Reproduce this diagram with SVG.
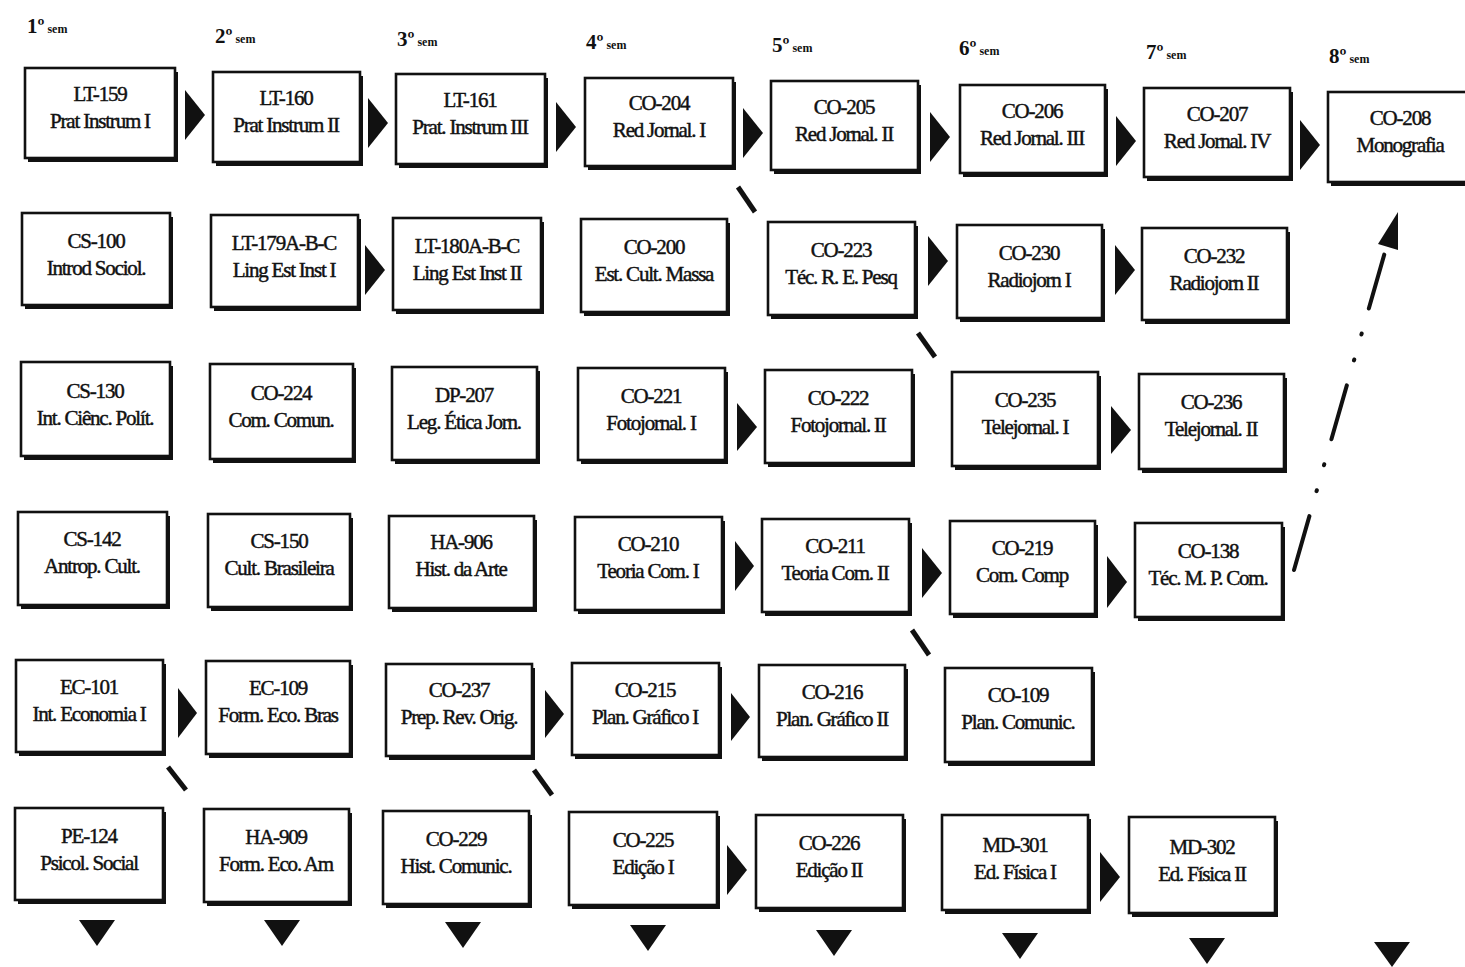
<svg xmlns="http://www.w3.org/2000/svg" width="1465" height="967" viewBox="0 0 1465 967">
<style>
.bg{fill:#fff}
.sh{fill:#111}
.bx{fill:#fff;stroke:#111;stroke-width:2.6}
.t{font-family:"Liberation Serif",serif;font-size:21px;letter-spacing:-1.2px;text-anchor:middle;fill:#111;stroke:#111;stroke-width:0.45}
.h{font-family:"Liberation Serif",serif;font-size:21px;font-weight:bold;fill:#111}
.hs{font-size:12px}
.ar{fill:#111}
.dg{stroke:#111;stroke-width:5;stroke-linecap:butt;fill:none}
.dd{stroke:#111;stroke-width:4;stroke-linecap:round;fill:none;stroke-dasharray:56 26 1 26 1 26}
</style>
<rect class="bg" x="0" y="0" width="1465" height="967"/>
<g id="headers">
<text class="h" x="27" y="33">1º<tspan class="hs"> sem</tspan></text>
<text class="h" x="215" y="43">2º<tspan class="hs"> sem</tspan></text>
<text class="h" x="397" y="46">3º<tspan class="hs"> sem</tspan></text>
<text class="h" x="586" y="49">4º<tspan class="hs"> sem</tspan></text>
<text class="h" x="772" y="52">5º<tspan class="hs"> sem</tspan></text>
<text class="h" x="959" y="55">6º<tspan class="hs"> sem</tspan></text>
<text class="h" x="1146" y="59">7º<tspan class="hs"> sem</tspan></text>
<text class="h" x="1329" y="63">8º<tspan class="hs"> sem</tspan></text>
</g>
<g id="connectors">
<polygon class="ar" points="185,90 205,115 185,140"/>
<polygon class="ar" points="368,98 388,123 368,148"/>
<polygon class="ar" points="556,102 576,127 556,152"/>
<polygon class="ar" points="743,108 763,133 743,158"/>
<polygon class="ar" points="930,112 950,137 930,162"/>
<polygon class="ar" points="1116,116 1136,141 1116,166"/>
<polygon class="ar" points="1300,120 1320,145 1300,170"/>
<polygon class="ar" points="365,245 385,270 365,295"/>
<polygon class="ar" points="928,236 948,261 928,286"/>
<polygon class="ar" points="1115,245 1135,270 1115,295"/>
<polygon class="ar" points="737,403 757,427 737,451"/>
<polygon class="ar" points="1111,406 1131,430 1111,454"/>
<polygon class="ar" points="735,541 754,566 735,591"/>
<polygon class="ar" points="922,548 942,573 922,598"/>
<polygon class="ar" points="1107,556 1127,582 1107,608"/>
<polygon class="ar" points="178,688 197,713 178,738"/>
<polygon class="ar" points="545,690 564,714 545,738"/>
<polygon class="ar" points="731,693 750,717 731,741"/>
<polygon class="ar" points="727,845 747,870 727,895"/>
<polygon class="ar" points="1100,852 1120,877 1100,902"/>
<path class="dg" d="M738,187 L755,212"/>
<path class="dg" d="M918,333 L935,357"/>
<path class="dg" d="M912,630 L929,655"/>
<path class="dg" d="M168,767 L186,790"/>
<path class="dg" d="M534,770 L552,795"/>
<path class="dd" d="M1294,570 L1385,252"/>
<polygon class="ar" points="1378,244 1398,212 1398,250"/>
<polygon class="ar" points="79,920 115,920 97,946"/>
<polygon class="ar" points="264,920 300,920 282,946"/>
<polygon class="ar" points="445,922 481,922 463,948"/>
<polygon class="ar" points="630,925 666,925 648,951"/>
<polygon class="ar" points="816,930 852,930 834,956"/>
<polygon class="ar" points="1002,933 1038,933 1020,959"/>
<polygon class="ar" points="1189,938 1225,938 1207,964"/>
<polygon class="ar" points="1374,942 1410,942 1392,967"/>
</g>
<g id="LT-159"><rect class="sh" x="28" y="72" width="150" height="90"/><rect class="bx" x="25" y="68" width="150" height="90"/><text class="t" x="100" y="101">LT-159</text><text class="t" x="100" y="128">Prat Instrum I</text></g>
<g id="LT-160"><rect class="sh" x="216" y="76" width="147" height="90"/><rect class="bx" x="213" y="72" width="147" height="90"/><text class="t" x="286" y="105">LT-160</text><text class="t" x="286" y="132">Prat Instrum II</text></g>
<g id="LT-161"><rect class="sh" x="399" y="78" width="149" height="90"/><rect class="bx" x="396" y="74" width="149" height="90"/><text class="t" x="470" y="107">LT-161</text><text class="t" x="470" y="134">Prat. Instrum III</text></g>
<g id="CO-204"><rect class="sh" x="588" y="82" width="148" height="88"/><rect class="bx" x="585" y="78" width="148" height="88"/><text class="t" x="659" y="110">CO-204</text><text class="t" x="659" y="137">Red Jornal. I</text></g>
<g id="CO-205"><rect class="sh" x="774" y="85" width="147" height="89"/><rect class="bx" x="771" y="81" width="147" height="89"/><text class="t" x="844" y="114">CO-205</text><text class="t" x="844" y="141">Red Jornal. II</text></g>
<g id="CO-206"><rect class="sh" x="963" y="89" width="145" height="88"/><rect class="bx" x="960" y="85" width="145" height="88"/><text class="t" x="1032" y="118">CO-206</text><text class="t" x="1032" y="145">Red Jornal. III</text></g>
<g id="CO-207"><rect class="sh" x="1147" y="92" width="146" height="89"/><rect class="bx" x="1144" y="88" width="146" height="89"/><text class="t" x="1217" y="121">CO-207</text><text class="t" x="1217" y="148">Red Jornal. IV</text></g>
<g id="CO-208"><rect class="sh" x="1331" y="96" width="140" height="90"/><rect class="bx" x="1328" y="92" width="140" height="90"/><text class="t" x="1400" y="125">CO-208</text><text class="t" x="1400" y="152">Monografia</text></g>

<g id="CS-100"><rect class="sh" x="25" y="217" width="148" height="92"/><rect class="bx" x="22" y="213" width="148" height="92"/><text class="t" x="96" y="248">CS-100</text><text class="t" x="96" y="275">Introd Sociol.</text></g>
<g id="LT-179"><rect class="sh" x="214" y="219" width="147" height="92"/><rect class="bx" x="211" y="215" width="147" height="92"/><text class="t" x="284" y="250">LT-179A-B-C</text><text class="t" x="284" y="277">Ling Est Inst I</text></g>
<g id="LT-180"><rect class="sh" x="396" y="222" width="148" height="92"/><rect class="bx" x="393" y="218" width="148" height="92"/><text class="t" x="467" y="253">LT-180A-B-C</text><text class="t" x="467" y="280">Ling Est Inst II</text></g>
<g id="CO-200"><rect class="sh" x="584" y="223" width="146" height="93"/><rect class="bx" x="581" y="219" width="146" height="93"/><text class="t" x="654" y="254">CO-200</text><text class="t" x="654" y="281">Est. Cult. Massa</text></g>
<g id="CO-223"><rect class="sh" x="771" y="226" width="147" height="93"/><rect class="bx" x="768" y="222" width="147" height="93"/><text class="t" x="841" y="257">CO-223</text><text class="t" x="841" y="284">Téc. R. E. Pesq</text></g>
<g id="CO-230"><rect class="sh" x="960" y="229" width="145" height="93"/><rect class="bx" x="957" y="225" width="145" height="93"/><text class="t" x="1029" y="260">CO-230</text><text class="t" x="1029" y="287">Radiojorn I</text></g>
<g id="CO-232"><rect class="sh" x="1145" y="232" width="145" height="92"/><rect class="bx" x="1142" y="228" width="145" height="92"/><text class="t" x="1214" y="263">CO-232</text><text class="t" x="1214" y="290">Radiojorn II</text></g>

<g id="CS-130"><rect class="sh" x="24" y="366" width="149" height="94"/><rect class="bx" x="21" y="362" width="149" height="94"/><text class="t" x="95" y="398">CS-130</text><text class="t" x="95" y="425">Int. Ciênc. Polít.</text></g>
<g id="CO-224"><rect class="sh" x="213" y="368" width="143" height="95"/><rect class="bx" x="210" y="364" width="143" height="95"/><text class="t" x="281" y="400">CO-224</text><text class="t" x="281" y="427">Com. Comun.</text></g>
<g id="DP-207"><rect class="sh" x="395" y="371" width="145" height="93"/><rect class="bx" x="392" y="367" width="145" height="93"/><text class="t" x="464" y="402">DP-207</text><text class="t" x="464" y="429">Leg. Ética Jorn.</text></g>
<g id="CO-221"><rect class="sh" x="581" y="372" width="147" height="92"/><rect class="bx" x="578" y="368" width="147" height="92"/><text class="t" x="651" y="403">CO-221</text><text class="t" x="651" y="430">Fotojornal. I</text></g>
<g id="CO-222"><rect class="sh" x="768" y="374" width="147" height="93"/><rect class="bx" x="765" y="370" width="147" height="93"/><text class="t" x="838" y="405">CO-222</text><text class="t" x="838" y="432">Fotojornal. II</text></g>
<g id="CO-235"><rect class="sh" x="955" y="376" width="146" height="94"/><rect class="bx" x="952" y="372" width="146" height="94"/><text class="t" x="1025" y="407">CO-235</text><text class="t" x="1025" y="434">Telejornal. I</text></g>
<g id="CO-236"><rect class="sh" x="1142" y="378" width="145" height="95"/><rect class="bx" x="1139" y="374" width="145" height="95"/><text class="t" x="1211" y="409">CO-236</text><text class="t" x="1211" y="436">Telejornal. II</text></g>

<g id="CS-142"><rect class="sh" x="21" y="516" width="149" height="93"/><rect class="bx" x="18" y="512" width="149" height="93"/><text class="t" x="92" y="546">CS-142</text><text class="t" x="92" y="573">Antrop. Cult.</text></g>
<g id="CS-150"><rect class="sh" x="211" y="518" width="142" height="93"/><rect class="bx" x="208" y="514" width="142" height="93"/><text class="t" x="279" y="548">CS-150</text><text class="t" x="279" y="575">Cult. Brasileira</text></g>
<g id="HA-906"><rect class="sh" x="392" y="520" width="145" height="92"/><rect class="bx" x="389" y="516" width="145" height="92"/><text class="t" x="461" y="549">HA-906</text><text class="t" x="461" y="576">Hist. da Arte</text></g>
<g id="CO-210"><rect class="sh" x="578" y="521" width="147" height="93"/><rect class="bx" x="575" y="517" width="147" height="93"/><text class="t" x="648" y="551">CO-210</text><text class="t" x="648" y="578">Teoria Com. I</text></g>
<g id="CO-211"><rect class="sh" x="765" y="523" width="147" height="93"/><rect class="bx" x="762" y="519" width="147" height="93"/><text class="t" x="835" y="553">CO-211</text><text class="t" x="835" y="580">Teoria Com. II</text></g>
<g id="CO-219"><rect class="sh" x="953" y="525" width="145" height="93"/><rect class="bx" x="950" y="521" width="145" height="93"/><text class="t" x="1022" y="555">CO-219</text><text class="t" x="1022" y="582">Com. Comp</text></g>
<g id="CO-138"><rect class="sh" x="1138" y="527" width="147" height="94"/><rect class="bx" x="1135" y="523" width="147" height="94"/><text class="t" x="1208" y="558">CO-138</text><text class="t" x="1208" y="585">Téc. M. P. Com.</text></g>

<g id="EC-101"><rect class="sh" x="19" y="664" width="147" height="92"/><rect class="bx" x="16" y="660" width="147" height="92"/><text class="t" x="89" y="694">EC-101</text><text class="t" x="89" y="721">Int. Economia I</text></g>
<g id="EC-109"><rect class="sh" x="209" y="665" width="144" height="93"/><rect class="bx" x="206" y="661" width="144" height="93"/><text class="t" x="278" y="695">EC-109</text><text class="t" x="278" y="722">Form. Eco. Bras</text></g>
<g id="CO-237"><rect class="sh" x="389" y="668" width="146" height="92"/><rect class="bx" x="386" y="664" width="146" height="92"/><text class="t" x="459" y="697">CO-237</text><text class="t" x="459" y="724">Prep. Rev. Orig.</text></g>
<g id="CO-215"><rect class="sh" x="575" y="667" width="147" height="92"/><rect class="bx" x="572" y="663" width="147" height="92"/><text class="t" x="645" y="697">CO-215</text><text class="t" x="645" y="724">Plan. Gráfico I</text></g>
<g id="CO-216"><rect class="sh" x="762" y="669" width="146" height="92"/><rect class="bx" x="759" y="665" width="146" height="92"/><text class="t" x="832" y="699">CO-216</text><text class="t" x="832" y="726">Plan. Gráfico II</text></g>
<g id="CO-109"><rect class="sh" x="948" y="672" width="147" height="94"/><rect class="bx" x="945" y="668" width="147" height="94"/><text class="t" x="1018" y="702">CO-109</text><text class="t" x="1018" y="729">Plan. Comunic.</text></g>

<g id="PE-124"><rect class="sh" x="18" y="812" width="148" height="92"/><rect class="bx" x="15" y="808" width="148" height="92"/><text class="t" x="89" y="843">PE-124</text><text class="t" x="89" y="870">Psicol. Social</text></g>
<g id="HA-909"><rect class="sh" x="207" y="813" width="145" height="93"/><rect class="bx" x="204" y="809" width="145" height="93"/><text class="t" x="276" y="844">HA-909</text><text class="t" x="276" y="871">Form. Eco. Am</text></g>
<g id="CO-229"><rect class="sh" x="386" y="815" width="146" height="93"/><rect class="bx" x="383" y="811" width="146" height="93"/><text class="t" x="456" y="846">CO-229</text><text class="t" x="456" y="873">Hist. Comunic.</text></g>
<g id="CO-225"><rect class="sh" x="572" y="816" width="148" height="93"/><rect class="bx" x="569" y="812" width="148" height="93"/><text class="t" x="643" y="847">CO-225</text><text class="t" x="643" y="874">Edição I</text></g>
<g id="CO-226"><rect class="sh" x="759" y="819" width="147" height="93"/><rect class="bx" x="756" y="815" width="147" height="93"/><text class="t" x="829" y="850">CO-226</text><text class="t" x="829" y="877">Edição II</text></g>
<g id="MD-301"><rect class="sh" x="945" y="819" width="146" height="95"/><rect class="bx" x="942" y="815" width="146" height="95"/><text class="t" x="1015" y="852">MD-301</text><text class="t" x="1015" y="879">Ed. Física I</text></g>
<g id="MD-302"><rect class="sh" x="1132" y="821" width="146" height="96"/><rect class="bx" x="1129" y="817" width="146" height="96"/><text class="t" x="1202" y="854">MD-302</text><text class="t" x="1202" y="881">Ed. Física II</text></g>
</svg>
